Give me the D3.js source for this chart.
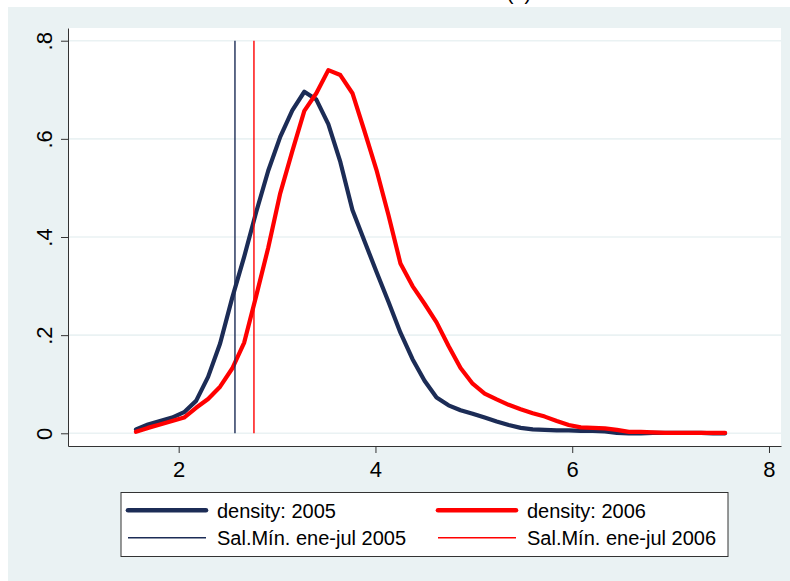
<!DOCTYPE html>
<html><head><meta charset="utf-8">
<script src="https://cdn.jsdelivr.net/npm/d3@7"></script>
<style>
body{margin:0;background:#fff}
svg{display:block}
text{font-family:"Liberation Sans",Arial,Helvetica,sans-serif;fill:#000}
</style>
</head><body>
<svg id="c" width="790" height="581"></svg>
<script>
// ---- data ----
const gridX = [1.566,1.688,1.810,1.933,2.055,2.177,2.299,2.421,2.544,2.666,
               2.788,2.910,3.032,3.155,3.277,3.399,3.521,3.643,3.766,3.888,
               4.010,4.132,4.254,4.377,4.499,4.621,4.743,4.865,4.988,5.110,
               5.232,5.354,5.476,5.599,5.721,5.843,5.965,6.087,6.210,6.332,
               6.454,6.576,6.698,6.821,6.943,7.065,7.187,7.309,7.432,7.554];
const density2005 = [0.008,0.018,0.025,0.032,0.043,0.066,0.115,0.183,0.276,0.360,
                     0.451,0.535,0.604,0.658,0.696,0.680,0.630,0.553,0.455,0.392,
                     0.329,0.268,0.205,0.151,0.107,0.073,0.057,0.047,0.040,0.032,
                     0.024,0.017,0.011,0.008,0.007,0.006,0.006,0.005,0.005,0.004,
                     0.001,0.000,0.000,0.001,0.001,0.001,0.001,0.001,0.000,0.000];
const density2006 = [0.003,0.011,0.018,0.025,0.032,0.052,0.070,0.095,0.132,0.185,
                     0.280,0.378,0.489,0.575,0.657,0.693,0.740,0.730,0.693,0.616,
                     0.537,0.445,0.346,0.300,0.264,0.226,0.178,0.133,0.101,0.081,
                     0.069,0.058,0.049,0.041,0.034,0.025,0.017,0.012,0.011,0.010,
                     0.007,0.003,0.003,0.002,0.001,0.001,0.001,0.001,0.001,0.001];
const minWage = [2.572, 2.765];          // Sal.Mín. ene-jul 2005, 2006
const minWageSpan = [0, 0.8];
const seriesNames = ["density: 2005", "density: 2006"];
const lineNames = ["Sal.Mín. ene-jul 2005", "Sal.Mín. ene-jul 2006"];
const xTicks = [2, 4, 6, 8];
const yTicks = [0, 0.2, 0.4, 0.6, 0.8];
const yTickLabels = ["0", ".2", ".4", ".6", ".8"];
const titleText = "(a)";

// ---- styles / layout ----
const colors = ["#1c2c56", "#ff0000"];
const bg = "#eaf2f3";
const W = 790, H = 581;
const P = {left: 68, top: 28, right: 781, bottom: 446};

const svg = d3.select("#c");
svg.append("rect").attr("x", 8).attr("y", 7).attr("width", W - 8).attr("height", H - 7).attr("fill", bg);
svg.append("text").attr("x", 519).attr("y", 0).attr("text-anchor", "middle")
   .style("font-size", "20px").text(titleText);
svg.append("rect").attr("x", P.left).attr("y", P.top)
   .attr("width", P.right - P.left).attr("height", P.bottom - P.top).attr("fill", "#fff");

const x = d3.scaleLinear().domain([0.875, 8.122]).range([P.left, P.right]);
const y = d3.scaleLinear().domain([-0.0259, 0.8259]).range([P.bottom, P.top]);

// gridlines
svg.append("g").selectAll("line").data(yTicks).join("line")
   .attr("x1", P.left).attr("x2", P.right)
   .attr("y1", d => y(d)).attr("y2", d => y(d))
   .attr("stroke", bg).attr("stroke-width", 1.6);

// curves
const line = d3.line().x((d, i) => x(gridX[i])).y(d => y(d));
[density2005, density2006].forEach((s, k) => {
  svg.append("path").datum(s).attr("d", line).attr("fill", "none")
     .attr("stroke", colors[k]).attr("stroke-width", 4.2)
     .attr("stroke-linejoin", "round").attr("stroke-linecap", "round");
});
// min-wage vertical lines
svg.append("g").selectAll("line").data(minWage).join("line")
   .attr("x1", d => x(d)).attr("x2", d => x(d))
   .attr("y1", y(minWageSpan[0])).attr("y2", y(minWageSpan[1]))
   .attr("stroke", (d, i) => colors[i]).attr("stroke-width", 1.4);

// axes
const axisColor = "#333";
const gx = svg.append("g").attr("transform", `translate(0,${P.bottom})`)
  .call(d3.axisBottom(x).tickValues(xTicks).tickSize(7).tickSizeOuter(0).tickFormat(d3.format("d")));
gx.select(".domain").attr("stroke", axisColor);
gx.selectAll(".tick line").attr("stroke", axisColor);
gx.selectAll(".tick text").attr("y", 31).attr("dy", 0)
  .style("font-size", "22px").attr("fill", "#000");

const gy = svg.append("g").attr("transform", `translate(${P.left},0)`)
  .call(d3.axisLeft(y).tickValues(yTicks).tickSize(7).tickSizeOuter(0).tickFormat((d, i) => yTickLabels[i]));
gy.select(".domain").attr("stroke", axisColor);
gy.selectAll(".tick line").attr("stroke", axisColor);
gy.selectAll(".tick text")
  .attr("x", null).attr("dy", null)
  .attr("transform", "translate(-16,0) rotate(-90)")
  .attr("text-anchor", "middle")
  .style("font-size", "22px").attr("fill", "#000");

// legend
const L = {x: 121, y: 492.5, w: 607, h: 64};
svg.append("rect").attr("x", L.x).attr("y", L.y).attr("width", L.w).attr("height", L.h)
   .attr("fill", "#fff").attr("stroke", "#333").attr("stroke-width", 1);
const rowsY = [510.3, 537.7];
const colX = [128, 438];
const sampleW = 78, textGap = 89;
const items = [
  {label: seriesNames[0], color: colors[0], w: 4.6, col: 0, row: 0},
  {label: seriesNames[1], color: colors[1], w: 4.6, col: 1, row: 0},
  {label: lineNames[0], color: colors[0], w: 1.4, col: 0, row: 1},
  {label: lineNames[1], color: colors[1], w: 1.4, col: 1, row: 1}
];
const lg = svg.append("g");
lg.selectAll("line").data(items).join("line")
  .attr("x1", d => colX[d.col]).attr("x2", d => colX[d.col] + sampleW)
  .attr("y1", d => rowsY[d.row]).attr("y2", d => rowsY[d.row])
  .attr("stroke", d => d.color).attr("stroke-width", d => d.w)
  .attr("stroke-linecap", d => d.w > 2 ? "round" : "butt");
lg.selectAll("text").data(items).join("text")
  .attr("x", d => colX[d.col] + textGap).attr("y", d => rowsY[d.row]).attr("dy", "0.36em")
  .style("font-size", "20px").text(d => d.label);
</script>
</body></html>
